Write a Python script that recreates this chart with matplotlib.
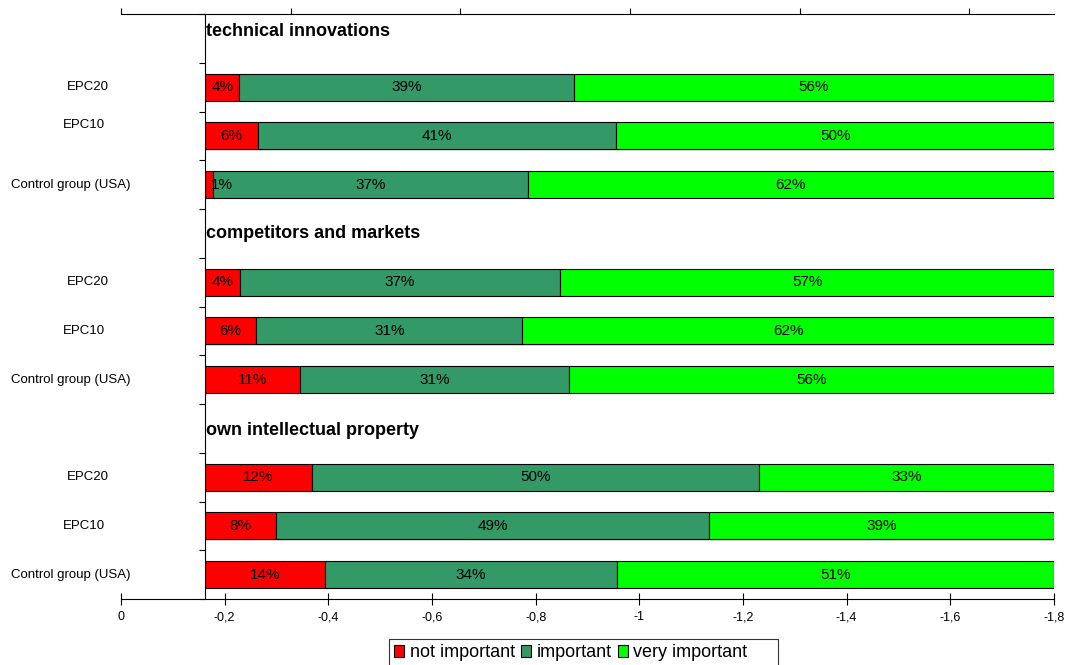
import matplotlib.pyplot as plt
import matplotlib.patheffects as pe
from matplotlib.patches import Patch
from matplotlib.ticker import FuncFormatter
from matplotlib.transforms import blended_transform_factory

plt.rcParams['font.family'] = ['Liberation Sans', 'DejaVu Sans']

groups = ['technical innovations', 'competitors and markets', 'own intellectual property']
respondents = ['EPC20', 'EPC10', 'Control group (USA)']
levels = ['not important', 'important', 'very important']

# one value per bar, in group order (EPC20, EPC10, Control group) x 3 groups
not_important = [4, 6, 1, 4, 6, 11, 12, 8, 14]
important = [39, 41, 37, 37, 31, 31, 50, 49, 34]
very_important = [56, 50, 62, 57, 62, 56, 33, 39, 51]

bottom_ticks = [0, -0.2, -0.4, -0.6, -0.8, -1.0, -1.2, -1.4, -1.6, -1.8]
top_ticks = [0, 0.2, 0.4, 0.6, 0.8, 1.0]

colors = ['#ff0000', '#339966', '#00ff00']

W, H = 1069, 665
fig = plt.figure(figsize=(W / 100, H / 100), dpi=100)


def px_rect(x0, y0, x1, y1):
    return [x0 / W, 1 - y1 / H, (x1 - x0) / W, (y1 - y0) / H]


# outer value axis (bottom) and its twin on top
ax = fig.add_axes(px_rect(121, 14, 1054, 599))
ax.set_xlim(0, -1.8)
ax.set_xticks(bottom_ticks)
ax.xaxis.set_major_formatter(FuncFormatter(lambda v, p: f'{v:g}'.replace('.', ',')))
ax.set_yticks([])
for s in ['left', 'right', 'top']:
    ax.spines[s].set_visible(False)
ax.spines['bottom'].set_linewidth(0.8)
ax.tick_params(axis='x', direction='inout', length=8, width=0.8, labelsize=9, pad=5)

top = ax.twiny()
top.set_xlim(0, 1.1)
top.set_xticks(top_ticks)
top.set_xticklabels([])
for s in ['left', 'right', 'bottom']:
    top.spines[s].set_visible(False)
top.spines['top'].set_linewidth(0.8)
top.tick_params(axis='x', direction='out', length=4, width=0.8)

# stacked bars
bx = fig.add_axes(px_rect(205, 14, 1054, 599))
bx.patch.set_visible(False)
bx.set_xlim(0, 100)
bx.set_ylim(12, 0)
bx.set_xticks([])
bx.set_yticks(range(13))
bx.set_yticklabels([])
bx.tick_params(axis='y', direction='out', length=4, width=0.8)
for s in ['right', 'top', 'bottom']:
    bx.spines[s].set_visible(False)
bx.spines['left'].set_linewidth(0.8)

label_tr = blended_transform_factory(fig.transFigure, bx.transData)
label_center = [88, 84, 71]   # px, Excel centres each category label a bit differently
label_nudge = {1: -0.23}
header_nudge = [-0.15, 0.0, 0.05]

shadow = [pe.SimplePatchShadow(offset=(1, -1), shadow_rgbFace='0.75', alpha=0.5), pe.Normal()]

for g, name in enumerate(groups):
    bx.text(0.1, 4 * g + 0.5 + header_nudge[g], name, fontsize=13, fontweight='bold',
            ha='left', va='center')

for i in range(len(not_important)):
    g, r = divmod(i, 3)
    y = 4 * g + 1 + r + 0.5
    vals = [not_important[i], important[i], very_important[i]]
    total = sum(vals)
    left = 0
    for v, c in zip(vals, colors):
        w = v / total * 100
        bx.barh(y, w, left=left, height=0.55, color=c, edgecolor='black', linewidth=0.8,
                path_effects=shadow)
        bx.text(max(left + w / 2, 2.0), y, f'{v}%', ha='center', va='center', fontsize=11)
        left += w
    bx.text(label_center[r] / W, y + label_nudge.get(i, 0), respondents[r], transform=label_tr,
            ha='center', va='center', fontsize=9.5)

handles = [Patch(facecolor=c, edgecolor='black', linewidth=0.8) for c in colors]
leg_labels = levels[:-1] + [levels[-1] + '     ']  # Excel leaves extra room at the right
leg = fig.legend(handles, leg_labels, loc='upper left', bbox_to_anchor=(389 / W, 1 - 639 / H),
                 ncol=3, fontsize=13, frameon=True, fancybox=False, edgecolor='black',
                 handlelength=0.55, handleheight=0.6, handletextpad=0.3,
                 columnspacing=0.35, borderpad=0.3, borderaxespad=0)
leg.get_frame().set_linewidth(0.8)

fig.savefig('out.png', dpi=100)
